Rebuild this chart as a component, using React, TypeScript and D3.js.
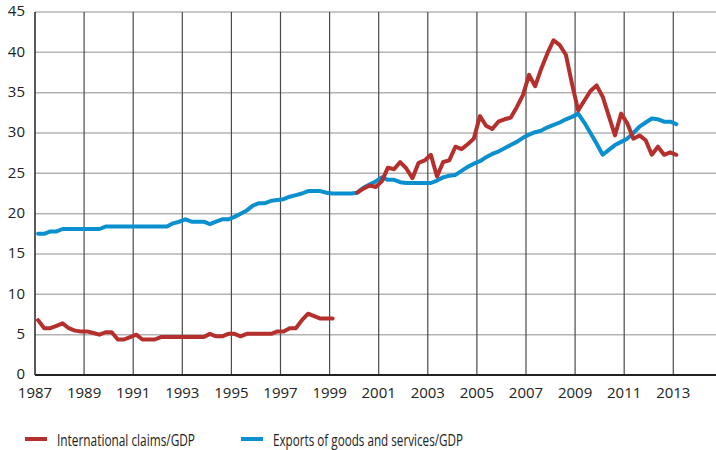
import * as d3 from "d3";
import React from "react";

// quarterly observations, plotted at the middle of each quarter
const claimsStart1 = 1987; // 1987Q1 .. 1999Q1
const claims1 = [
  6.8, 5.8, 5.8, 6.1,
  6.4, 5.8, 5.5, 5.4,
  5.4, 5.2, 5.0, 5.3,
  5.3, 4.4, 4.4, 4.7,
  5.0, 4.4, 4.4, 4.4,
  4.7, 4.7, 4.7, 4.7,
  4.7, 4.7, 4.7, 4.7,
  5.1, 4.8, 4.8, 5.1,
  5.1, 4.8, 5.1, 5.1,
  5.1, 5.1, 5.1, 5.4,
  5.4, 5.8, 5.8, 6.8,
  7.6, 7.3, 7.0, 7.0,
  7.0,
];
const claimsStart2 = 2000; // 2000Q1 .. 2013Q1
const claims2 = [
  22.6, 23.1, 23.5, 23.3,
  24.0, 25.7, 25.5, 26.4,
  25.6, 24.4, 26.3, 26.6,
  27.3, 24.6, 26.4, 26.6,
  28.3, 28.0, 28.6, 29.3,
  32.1, 30.9, 30.5, 31.4,
  31.7, 31.9, 33.2, 34.7,
  37.2, 35.8, 38.0, 39.9,
  41.5, 40.9, 39.7, 36.1,
  32.8, 34.0, 35.2, 35.9,
  34.5, 32.1, 29.7, 32.4,
  31.2, 29.3, 29.7, 29.1,
  27.3, 28.3, 27.3, 27.6,
  27.3,
];
const exportsStart = 1987; // 1987Q1 .. 2013Q1
const exportsGdp = [
  17.5, 17.5, 17.8, 17.8,
  18.1, 18.1, 18.1, 18.1,
  18.1, 18.1, 18.1, 18.4,
  18.4, 18.4, 18.4, 18.4,
  18.4, 18.4, 18.4, 18.4,
  18.4, 18.4, 18.8, 19.0,
  19.3, 19.0, 19.0, 19.0,
  18.7, 19.0, 19.3, 19.3,
  19.6, 20.0, 20.4, 21.0,
  21.3, 21.3, 21.6, 21.7,
  21.8, 22.1, 22.3, 22.5,
  22.8, 22.8, 22.8, 22.6,
  22.5, 22.5, 22.5, 22.5,
  22.6, 23.2, 23.6, 24.0,
  24.5, 24.2, 24.2, 23.9,
  23.8, 23.8, 23.8, 23.8,
  23.8, 24.1, 24.5, 24.7,
  24.8, 25.3, 25.8, 26.2,
  26.5, 27.0, 27.4, 27.7,
  28.1, 28.5, 28.9, 29.4,
  29.8, 30.1, 30.3, 30.7,
  31.0, 31.3, 31.7, 32.0,
  32.4, 31.3, 30.0, 28.7,
  27.3, 27.9, 28.5, 28.9,
  29.3, 30.0, 30.8, 31.3,
  31.8, 31.7, 31.4, 31.4,
  31.1,
];

const yTicks = [0, 5, 10, 15, 20, 25, 30, 35, 40, 45];
const xTicks = [1987, 1989, 1991, 1993, 1995, 1997, 1999, 2001, 2003, 2005, 2007, 2009, 2011, 2013];
const seriesNames = ["International claims/GDP", "Exports of goods and services/GDP"];

const RED = "#b52f2d";
const BLUE = "#0a8fcf";

const W = 716;
const H = 450;

const toPoints = (start: number, vals: number[]): [number, number][] =>
  vals.map((v, i) => [start + 0.125 + i * 0.25, v]);

const App = () => {
  const x = d3.scaleLinear().domain([1987, 2014.74]).range([35, 716]);
  const y = d3.scaleLinear().domain([0, 45]).range([375, 12]);
  const line = d3
    .line<[number, number]>()
    .x((d) => x(d[0]))
    .y((d) => y(d[1]));

  const font = "'Open Sans', 'DejaVu Sans', sans-serif";
  const legendFont = "'Liberation Sans Narrow', 'Open Sans', sans-serif";

  return (
    <svg
      width={W}
      height={H}
      style={{ position: "absolute", left: 0, top: 0, background: "#fff" }}
      fontFamily={font}
    >
      {/* horizontal grid */}
      {yTicks.slice(1).map((t) => (
        <line key={"h" + t} x1={x(1987)} x2={W} y1={y(t)} y2={y(t)} stroke="#b4b4b4" strokeWidth={1.5} />
      ))}
      {/* vertical grid */}
      {xTicks.slice(1).map((t) => (
        <line key={"v" + t} x1={x(t)} x2={x(t)} y1={y(45)} y2={y(0)} stroke="#4a4a4a" strokeWidth={1.2} />
      ))}
      {/* axes */}
      <line x1={x(1987)} x2={x(1987)} y1={y(45)} y2={y(0)} stroke="#222" strokeWidth={1.5} />
      <line x1={x(1987)} x2={W} y1={y(0)} y2={y(0)} stroke="#222" strokeWidth={2} />

      {yTicks.map((t) => (
        <text key={"yl" + t} x={25} y={y(t) - 1} dy="0.35em" textAnchor="end" fontSize={15} fill="#222">
          {t}
        </text>
      ))}
      {xTicks.map((t) => (
        <text key={"xl" + t} x={x(t)} y={398} textAnchor="middle" fontSize={15} fill="#222">
          {t}
        </text>
      ))}

      <g fill="none" strokeWidth={4} strokeLinejoin="round" strokeLinecap="round">
        <path d={line(toPoints(exportsStart, exportsGdp)) || ""} stroke={BLUE} />
        <path d={line(toPoints(claimsStart1, claims1)) || ""} stroke={RED} />
        <path d={line(toPoints(claimsStart2, claims2)) || ""} stroke={RED} />
      </g>

      {/* legend */}
      <line x1={25} x2={47} y1={439} y2={439} stroke={RED} strokeWidth={4} />
      <text x={57} y={446} fontSize={16.5} fill="#222" fontFamily={legendFont} textLength={138} lengthAdjust="spacingAndGlyphs">
        {seriesNames[0]}
      </text>
      <line x1={241} x2={263} y1={439} y2={439} stroke={BLUE} strokeWidth={4} />
      <text x={273} y={446} fontSize={16.5} fill="#222" fontFamily={legendFont} textLength={190} lengthAdjust="spacingAndGlyphs">
        {seriesNames[1]}
      </text>
    </svg>
  );
};

export default App;
